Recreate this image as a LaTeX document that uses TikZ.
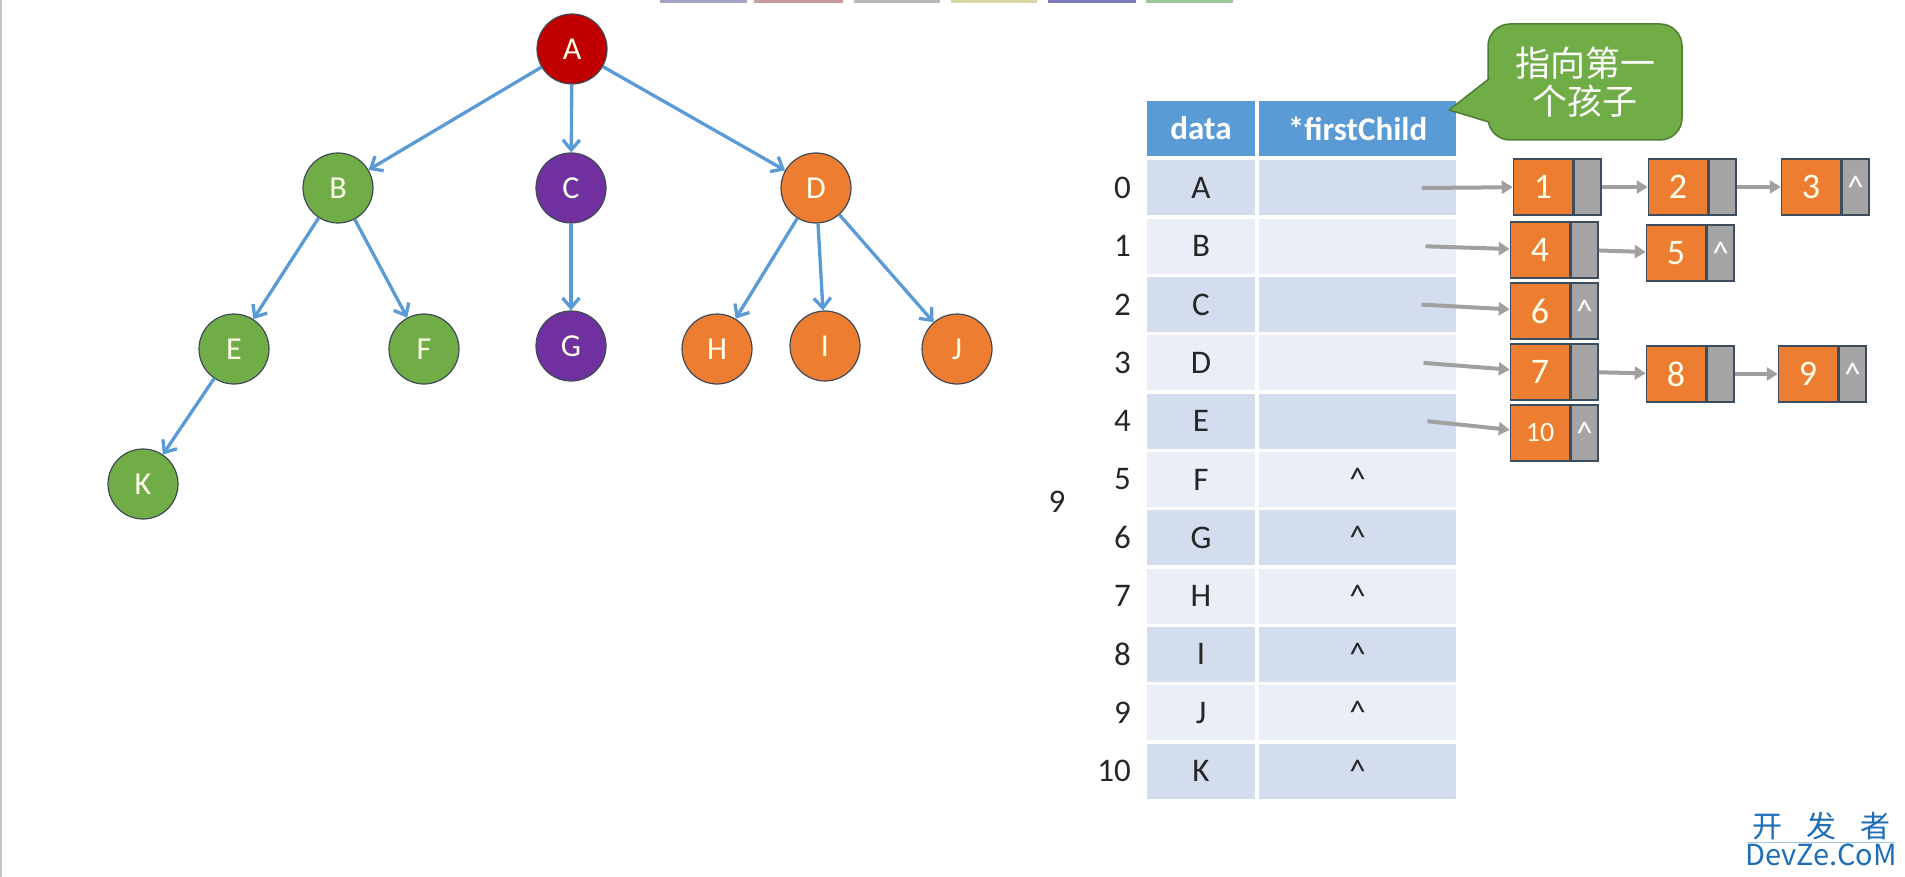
\documentclass[tikz,border=0pt]{standalone}
\usepackage{fontspec}
\setmainfont{Carlito}
\newfontfamily\cjk{Noto Sans CJK SC}
\usepackage{xcolor}
\usetikzlibrary{arrows.meta,positioning}
\definecolor{rootred}{HTML}{C00000}
\definecolor{leafgreen}{HTML}{70AD47}
\definecolor{midpurple}{HTML}{7030A0}
\definecolor{hotorange}{HTML}{ED7D31}
\definecolor{nodeedge}{HTML}{3E4A56}
\definecolor{treeblue}{HTML}{5B9BD5}
\definecolor{headblue}{HTML}{5B9BD5}
\definecolor{rowdark}{HTML}{D3DDEE}
\definecolor{rowlight}{HTML}{EAEEF6}
\definecolor{linkgray}{HTML}{A5A5A5}
\definecolor{listedge}{HTML}{3E4D5E}
\definecolor{arrowgray}{HTML}{A0A0A0}
\definecolor{notegreen}{HTML}{70AD47}
\definecolor{noteedge}{HTML}{4E7D33}
\definecolor{markblue}{HTML}{1F6DB5}
\newcommand\treefont{\fontsize{32}{34}\selectfont}
\newcommand\tabfont{\fontsize{33}{36}\selectfont}
\newcommand\listfont{\fontsize{36}{38}\selectfont}

\begin{document}
\begin{tikzpicture}[x=1pt,y=-1pt,every node/.style={inner sep=0pt}]
    \tikzstyle{vertex}=[circle,minimum size=70pt,draw=nodeedge,line width=1.2pt,text=white!92!yellow,font=\treefont]
    \tikzstyle{edge}=[-{Straight Barb[length=10pt,width=17pt]},line width=3.3pt,treeblue]
    \tikzstyle{cell}=[rectangle,minimum height=55pt,font=\tabfont,text=black!85]
    \tikzstyle{item}=[rectangle,fill=hotorange,draw=listedge,line width=1.5pt,minimum width=59pt,minimum height=56pt,text=white!92!yellow,font=\listfont]
    \tikzstyle{link}=[rectangle,fill=linkgray,draw=listedge,line width=1.5pt,minimum width=27pt,minimum height=56pt,text=white,font=\tabfont]
    \tikzstyle{ptr}=[-{Triangle[length=11pt,width=13pt]},line width=4pt,arrowgray]
    \useasboundingbox (0,0) rectangle (1905,877);
    \draw[gray!45,line width=2pt] (1,0) -- (1,877);
    % tabs at the top
    \fill[blue!20!gray!60] (660,0) rectangle (747,3);
    \fill[red!30!gray!60] (754,0) rectangle (843,3);
    \fill[gray!55] (854,0) rectangle (940,3);
    \fill[yellow!40!gray!60] (951,0) rectangle (1037,3);
    \fill[blue!30!gray!80] (1048,0) rectangle (1136,3);
    \fill[green!30!gray!60] (1146,0) rectangle (1233,3);
    % tree
    \node[vertex,fill=rootred] (A) at (572,49) {A};
    \node[vertex,fill=leafgreen] (B) at (338,188) {B};
    \node[vertex,fill=midpurple] (C) at (571,188) {C};
    \node[vertex,fill=hotorange] (D) at (816,188) {D};
    \node[vertex,fill=leafgreen] (E) at (234,349) {E};
    \node[vertex,fill=leafgreen] (F) at (424,349) {F};
    \node[vertex,fill=midpurple] (G) at (571,346) {G};
    \node[vertex,fill=hotorange] (H) at (717,349) {H};
    \node[vertex,fill=hotorange] (I) at (825,346) {I};
    \node[vertex,fill=hotorange] (J) at (957,349) {J};
    \node[vertex,fill=leafgreen] (K) at (143,484) {K};
    \draw[edge] (A) -- (B);
    \draw[edge] (A) -- (C);
    \draw[edge] (A) -- (D);
    \draw[edge] (B) -- (E);
    \draw[edge] (B) -- (F);
    \draw[edge] (C) -- (G);
    \draw[edge] (D) -- (H);
    \draw[edge] (D) -- (I);
    \draw[edge] (D) -- (J);
    \draw[edge] (E) -- (K);
    % table
    \node[cell,fill=headblue,minimum width=108pt,text=white,font=\tabfont\bfseries] (hdata) at (1201,128.5) {data};
    \node[cell,fill=headblue,minimum width=197pt,text=white,font=\tabfont\bfseries] (hchild) at (1357.5,128.5) {*firstChild};
    \foreach \i/\v/\p in {0/A/0,1/B/0,2/C/0,3/D/0,4/E/0,5/F/1,6/G/1,7/H/1,8/I/1,9/J/1,10/K/1}{
        \ifodd\i\relax\def\rc{rowlight}\else\def\rc{rowdark}\fi
        \node[cell,fill=\rc,minimum width=108pt] (d\i) at (1201,{188+58.3*\i}) {\v};
        \node[cell,fill=\rc,minimum width=197pt] (f\i) at (1357.5,{188+58.3*\i}) {\ifnum\p=1 \textasciicircum\fi};
        \node[anchor=east,font=\tabfont,text=black!85] (r\i) at (1131,{188+58.3*\i}) {\i};
    }
    \node[font=\tabfont,text=black!85] (stray) at (1057,502) {9};
    % child lists
    \node[item] (n1) at (1543,187) {1};
    \node[link,right=0pt of n1] (n1p) {};
    \node[item] (n2) at (1678,187) {2};
    \node[link,right=0pt of n2] (n2p) {};
    \node[item] (n3) at (1811,187) {3};
    \node[link,right=0pt of n3] (n3p) {\textasciicircum};
    \node[item] (n4) at (1540,250) {4};
    \node[link,right=0pt of n4] (n4p) {};
    \node[item] (n5) at (1676,253) {5};
    \node[link,right=0pt of n5] (n5p) {\textasciicircum};
    \node[item] (n6) at (1540,311) {6};
    \node[link,right=0pt of n6] (n6p) {\textasciicircum};
    \node[item] (n7) at (1540,372) {7};
    \node[link,right=0pt of n7] (n7p) {};
    \node[item] (n8) at (1676,374) {8};
    \node[link,right=0pt of n8] (n8p) {};
    \node[item] (n9) at (1808,374) {9};
    \node[link,right=0pt of n9] (n9p) {\textasciicircum};
    \node[item,font=\fontsize{28}{30}\selectfont] (n10) at (1540,433) {10};
    \node[link,right=0pt of n10] (n10p) {\textasciicircum};
    \draw[ptr] ([xshift=64pt]f0.center) -- (n1);
    \draw[ptr] ([xshift=68pt]f1.center) -- (n4);
    \draw[ptr] ([xshift=64pt]f2.center) -- (n6);
    \draw[ptr] ([xshift=66pt]f3.center) -- (n7);
    \draw[ptr] ([xshift=70pt]f4.center) -- (n10);
    \draw[ptr] (n1p) -- (n2);
    \draw[ptr] (n2p) -- (n3);
    \draw[ptr] (n4p) -- (n5);
    \draw[ptr] (n7p) -- (n8);
    \draw[ptr] (n8p) -- (n9);
    % callout
    \node[rectangle,rounded corners=22pt,fill=notegreen,draw=noteedge,line width=1.5pt,minimum width=194pt,minimum height=116pt,align=center,text=white,font=\cjk\fontsize{35}{38}\selectfont] (note) at (1585,82) {指向第一\\个孩子};
    \fill[notegreen] (1492,76) -- (1449,110) -- (1502,126) -- cycle;
    \draw[noteedge,line width=1.5pt,line join=round] (1489.5,78.4) -- (1449,110) -- (1488.8,122);
    % watermark
    \node[font=\cjk\fontsize{30}{30}\selectfont,text=markblue] (mark1) at (1821,826) {开\hspace{24pt}发\hspace{24pt}者};
    \draw[markblue!40,line width=0.8pt] (1747,842) -- (1895,842);
    \node[font=\cjk\fontsize{29}{29}\selectfont,text=markblue] (mark2) at (1821,855) {DevZe.CoM};
\end{tikzpicture}
\end{document}
